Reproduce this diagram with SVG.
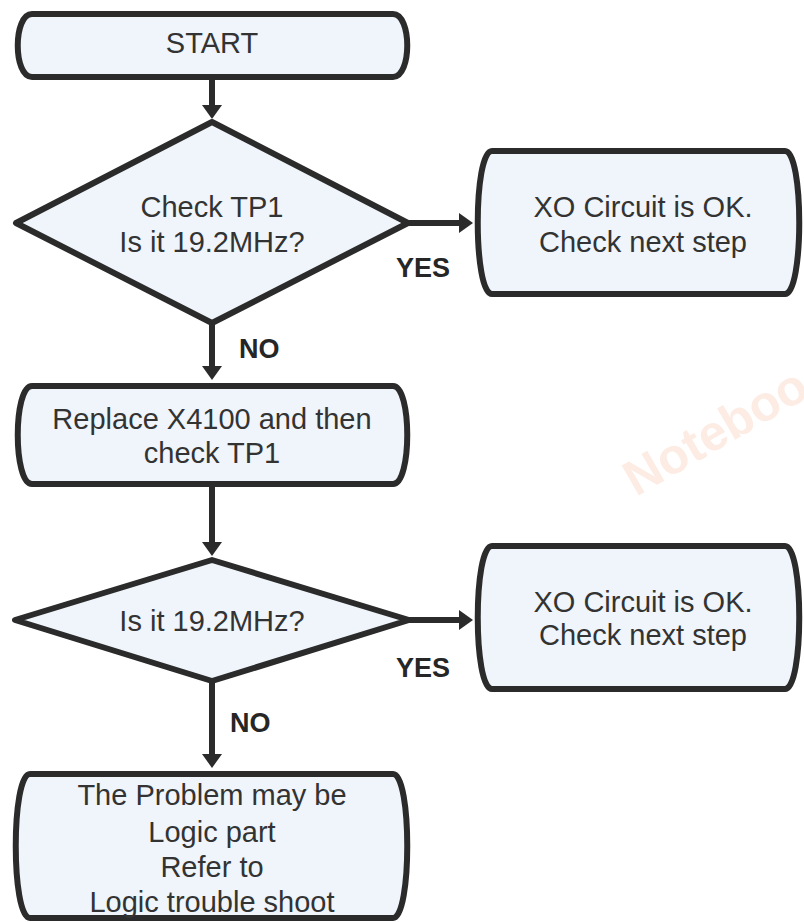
<svg xmlns="http://www.w3.org/2000/svg" width="804" height="922" viewBox="0 0 804 922">
  <defs>
    <style>
      .node{fill:#eff5fa;stroke:#2b2b2b;stroke-width:6;stroke-linejoin:round}
      .txt{font-family:"Liberation Sans",Arial,sans-serif;font-size:29px;fill:#333;text-anchor:middle}
      .lbl{font-family:"Liberation Sans",Arial,sans-serif;font-size:27px;font-weight:bold;fill:#262626}
      .edge{stroke:#2b2b2b;stroke-width:6;fill:none}
      .wm{font-family:"Liberation Sans",Arial,sans-serif;font-size:50px;font-weight:bold;fill:#fdece4}
    </style>
    <marker id="arr" viewBox="0 0 14 20" refX="4" refY="10" markerWidth="14" markerHeight="20" orient="auto" markerUnits="userSpaceOnUse">
      <path d="M0,0 L14,10 L0,20 Z" fill="#2b2b2b"/>
    </marker>
  </defs>
  <rect width="804" height="922" fill="#ffffff"/>

  <text class="wm" transform="translate(636,497) rotate(-30)">Noteboo</text>

  <g id="connectors">
    <line class="edge" x1="212" y1="77" x2="212" y2="109" marker-end="url(#arr)"/>
    <line class="edge" x1="408" y1="223" x2="463" y2="223" marker-end="url(#arr)"/>
    <line class="edge" x1="212" y1="323" x2="212" y2="370" marker-end="url(#arr)"/>
    <line class="edge" x1="212" y1="484" x2="212" y2="546" marker-end="url(#arr)"/>
    <line class="edge" x1="409" y1="620" x2="463" y2="620" marker-end="url(#arr)"/>
    <line class="edge" x1="212" y1="681" x2="212" y2="758" marker-end="url(#arr)"/>
    <text class="lbl" x="396" y="277">YES</text>
    <text class="lbl" x="239" y="358">NO</text>
    <text class="lbl" x="396" y="677">YES</text>
    <text class="lbl" x="230" y="732">NO</text>
  </g>

  <g id="start">
    <path class="node" d="M32,14 H393 C412,14 412,77 393,77 H32 C13,77 13,14 32,14 Z"/>
    <text class="txt" x="212" y="53">START</text>
  </g>

  <g id="check1">
    <polygon class="node" points="212,122 408,223 212,323 16,223"/>
    <text class="txt" x="212" y="217">Check TP1</text>
    <text class="txt" x="212" y="252">Is it 19.2MHz?</text>
  </g>

  <g id="ok1">
    <path class="node" d="M492,151 H785 C804,151 804,294 785,294 H492 C473,294 473,151 492,151 Z"/>
    <text class="txt" x="643" y="217">XO Circuit is OK.</text>
    <text class="txt" x="643" y="252">Check next step</text>
  </g>

  <g id="replace">
    <path class="node" d="M32,386 H393 C412,386 412,484 393,484 H32 C13,484 13,386 32,386 Z"/>
    <text class="txt" x="212" y="429">Replace X4100 and then</text>
    <text class="txt" x="212" y="463">check TP1</text>
  </g>

  <g id="check2">
    <polygon class="node" points="212,560 409,620 212,681 15,620"/>
    <text class="txt" x="212" y="631">Is it 19.2MHz?</text>
  </g>

  <g id="ok2">
    <path class="node" d="M492,546 H785 C804,546 804,689 785,689 H492 C473,689 473,546 492,546 Z"/>
    <text class="txt" x="643" y="612">XO Circuit is OK.</text>
    <text class="txt" x="643" y="645">Check next step</text>
  </g>

  <g id="logic">
    <path class="node" d="M30,774 H393 C412,774 412,918 393,918 H30 C11,918 11,774 30,774 Z"/>
    <text class="txt" x="212" y="805">The Problem may be</text>
    <text class="txt" x="212" y="842">Logic part</text>
    <text class="txt" x="212" y="877">Refer to</text>
    <text class="txt" x="212" y="912">Logic trouble shoot</text>
  </g>
</svg>
